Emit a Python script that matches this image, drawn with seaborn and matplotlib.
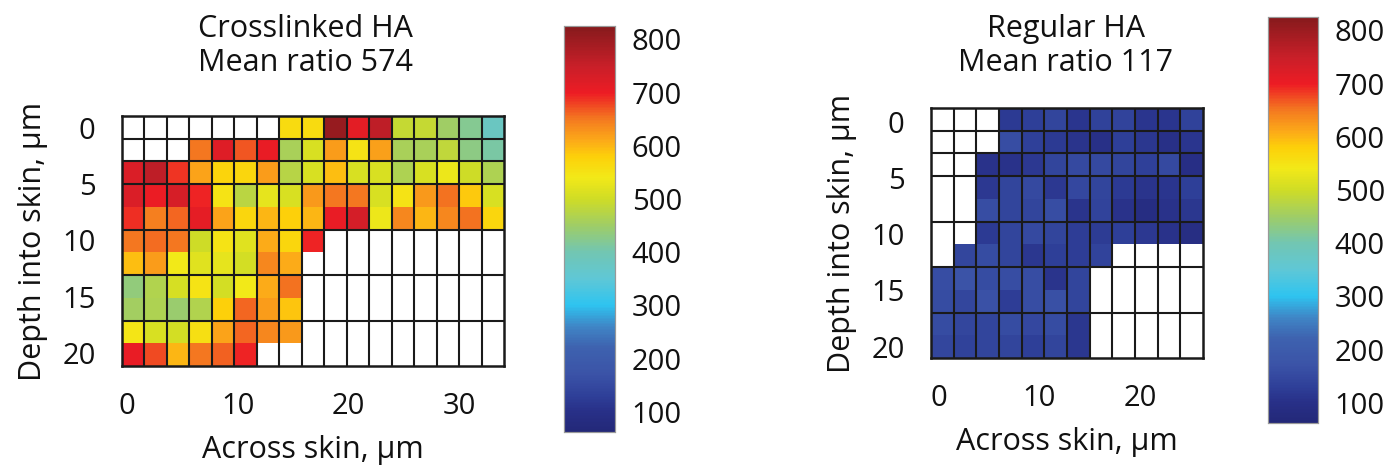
import numpy as np
import pandas as pd
import matplotlib.pyplot as plt
import seaborn as sns
from matplotlib.colors import LinearSegmentedColormap

nan = np.nan

# ratio maps, rows = depth (2 um steps), cols = across (2 um steps)
crosslinked = [
    [nan] * 7 + [560, 560, 805, 712, 760, 490, 490, 450, 420, 380],
    [nan] * 3 + [650, 720, 670, 705, 460, 510, 622, 548, 618, 460, 460, 485, 430, 410],
    [725, 760, 685, 615, 572, 570, 620, 475, 510, 595, 510, 510, 465, 510, 535, 500, 465],
    [725, 700, 730, 695, 550, 478, 525, 510, 625, 650, 650, 510, 550, 625, 655, 585, 510],
    [690, 645, 660, 710, 615, 570, 600, 580, 600, 705, 735, 535, 640, 600, 640, 655, 570],
    [652, 657, 652, 500, 550, 520, 610, 570, 695] + [nan] * 8,
    [595, 620, 540, 520, 525, 505, 640, 610] + [nan] * 9,
    [435, 470, 508, 548, 505, 540, 610, 655] + [nan] * 9,
    [455, 465, 445, 470, 580, 660, 620, 588] + [nan] * 9,
    [545, 510, 505, 555, 615, 660, 640, 625] + [nan] * 9,
    [705, 675, 600, 650, 662, 695] + [nan] * 11,
]

regular = [
    [nan] * 3 + [120, 130, 140, 110, 135, 138, 110, 110, 135],
    [nan] * 3 + [160, 132, 120, 108, 98, 130, 115, 98, 112],
    [nan] * 2 + [105, 105, 118, 140, 150, 150, 140, 132, 150, 92],
    [nan] * 2 + [118, 140, 150, 118, 148, 140, 120, 108, 110, 130],
    [nan] * 2 + [160, 140, 142, 158, 108, 138, 105, 88, 105, 115],
    [nan] * 2 + [120, 142, 150, 140, 125, 122, 130, 118, 105, 90],
    [nan] + [145, 155, 140, 115, 130, 125, 138] + [nan] * 4,
    [160, 170, 155, 160, 160, 108, 140] + [nan] * 5,
    [155, 145, 168, 125, 158, 165, 140] + [nan] * 5,
    [155, 145, 142, 155, 148, 155, 115] + [nan] * 5,
    [145, 135, 142, 140, 128, 140, 115] + [nan] * 5,
]

titles = ["Crosslinked HA\nMean ratio 574", "Regular HA\nMean ratio 117"]
x_ticks_left = [0, 10, 20, 30]
x_ticks_right = [0, 10, 20]
y_ticks = [0, 5, 10, 15, 20]
cbar_ticks = [100, 200, 300, 400, 500, 600, 700, 800]

VMIN, VMAX = 62, 825
anchors = [(62, "#232878"), (100, "#283088"), (130, "#2f4099"), (170, "#3b53a7"),
           (220, "#3e62af"), (260, "#3f86c6"), (300, "#2ec4f0"), (350, "#5fc7d6"),
           (400, "#72c6b2"), (450, "#9fcd66"), (500, "#cfdc26"), (540, "#f2e918"),
           (580, "#fdd00a"), (610, "#fcaa18"), (650, "#f47a20"), (700, "#ed1c24"),
           (750, "#c91f29"), (825, "#861a1c")]
cmap = LinearSegmentedColormap.from_list(
    "ratio", [((v - VMIN) / (VMAX - VMIN), c) for v, c in anchors])

sns.set_theme(style="white")
plt.rcParams["font.family"] = ["Open Sans", "DejaVu Sans"]
plt.rcParams["font.size"] = 21

W, H = 1393, 466
fig = plt.figure(figsize=(W / 100, H / 100), dpi=100)


def box(x0, y0, x1, y1):
    return [x0 / W, 1 - y1 / H, (x1 - x0) / W, (y1 - y0) / H]


ax1 = fig.add_axes(box(122, 116, 504, 366))
cax1 = fig.add_axes(box(564, 26, 615, 432))
ax2 = fig.add_axes(box(931, 108, 1203, 358))
cax2 = fig.add_axes(box(1268, 17, 1318, 423))

panels = [
    (ax1, cax1, crosslinked, x_ticks_left, (0.22, 0.4925), (0.52, 0.495), titles[0], 305),
    (ax2, cax2, regular, x_ticks_right, (0.34, 0.444), (0.6, 0.495), titles[1], 1066),
]

for ax, cax, data, xt, xmap, ymap, title, tx in panels:
    df = pd.DataFrame(data)
    sns.heatmap(df, ax=ax, cmap=cmap, vmin=VMIN, vmax=VMAX, cbar_ax=cax,
                 xticklabels=False, yticklabels=False)
    nr, nc = df.shape
    for c in range(1, nc):
        ax.axvline(c, color="#1a1a1a", lw=1.5)
    for r in [1, 2, 3, 5, 7, 9]:
        ax.axhline(r, color="#1a1a1a", lw=1.5)
    for s in ax.spines.values():
        s.set_visible(True)
        s.set_color("#1a1a1a")
        s.set_linewidth(1.8)
    ax.set_xticks([xmap[0] + xmap[1] * v for v in xt])
    ax.set_xticklabels([str(v) for v in xt])
    ax.set_yticks([ymap[0] + ymap[1] * v for v in y_ticks])
    ax.set_yticklabels([str(v) for v in y_ticks], rotation=0)
    ax.tick_params(length=0, labelsize=21, pad=19, colors="#111111")
    ax.set_xlabel("Across skin, µm", fontsize=22, labelpad=10, color="#111111")
    ax.set_ylabel("Depth into skin, µm", fontsize=22, labelpad=10, color="#111111")
    fig.text(tx / W, 1 - 46 / H, title, ha="center", va="center",
             fontsize=22, linespacing=1.2, color="#111111")

    cax.set_yticks(cbar_ticks)
    cax.tick_params(axis="y", direction="in", length=4, width=0.8, left=True,
                    right=True, labelright=True, labelsize=21, pad=12,
                    colors="#111111")
    for s in cax.spines.values():
        s.set_visible(True)
        s.set_color("#999999")
        s.set_linewidth(0.8)

fig.savefig("out.png", dpi=100)
